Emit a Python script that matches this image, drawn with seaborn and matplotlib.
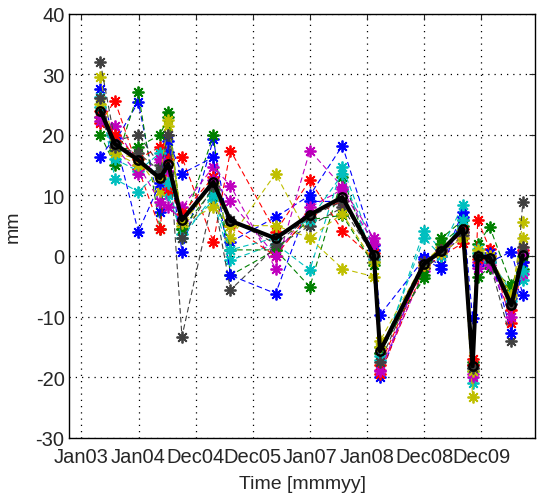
import numpy as np
import pandas as pd
import matplotlib
matplotlib.use("Agg")
import matplotlib.pyplot as plt
import seaborn as sns

# epochs in years after the Jan03 tick
epochs = [0.33, 0.585, 0.995, 1.376, 1.52, 1.76, 2.31, 2.61, 3.40, 4.0, 4.57,
          5.12, 5.23, 6.0, 6.3, 6.68, 6.85, 6.94, 7.15, 7.53, 7.73]

tick_labels = ["Jan03", "Jan04", "Dec04", "Dec05", "Jan07", "Jan08", "Dec08", "Dec09"]

# mean series (thick black)
mean_mm = [24.0, 18.5, 15.8, 12.8, 15.2, 5.9, 12.2, 5.8, 2.9, 6.8, 9.7,
           0.2, -15.7, -1.3, 0.8, 4.5, -18.2, 0.0, -0.3, -8.1, 0.1]

# individual stations (mm)
s00 = [27.5, 18.8, 25.4, 7.3, 17.2, 0.7, 19.3, 2.3, 6.4, 10.0, 18.2, 1.8, -20.0, -0.1, -1.5, 7.3, -10.3, -1.5, -1.0, 0.7, -6.4]
s01 = [20.0, 15.0, 27.0, 4.5, 23.7, 4.5, 19.9, -3.2, 1.0, -5.1, 13.0, -1.0, -15.0, -3.7, 2.9, 5.9, -17.5, 2.0, 4.8, -4.8, -2.1]
s02 = [22.0, 25.6, 14.4, 4.5, 16.0, 16.3, 2.3, 17.4, 4.0, 12.5, 4.2, -0.5, -19.5, -2.0, 0.0, 2.1, -17.0, 5.9, 1.2, -11.1, -1.0]
s03 = [26.2, 12.7, 10.6, 14.0, 10.0, 3.7, 9.2, -0.7, 2.0, -2.3, 14.7, 1.0, -17.1, 4.2, 1.0, 8.4, -21.0, 1.2, -0.5, -6.0, -4.0]
s04 = [22.3, 21.5, 15.0, 8.9, 14.0, 8.0, 14.7, 11.6, -2.1, 17.4, 11.4, 2.9, -18.8, -2.5, 0.7, 3.0, -19.9, -1.0, -2.0, -8.0, -3.0]
s05 = [29.5, 17.0, 16.0, 10.8, 21.5, 5.0, 12.0, 3.0, 13.6, 2.9, -2.1, -3.4, -14.0, -1.0, 1.5, 4.0, -23.2, 0.5, 0.0, -7.0, 5.6]
s06 = [32.0, 19.0, 20.0, 15.0, 20.0, -13.3, 10.0, -5.6, 1.5, 5.0, 8.0, 0.0, -16.0, -2.0, 0.0, 3.5, -18.5, 0.0, -1.0, -14.1, 8.9]
s07 = [16.4, 19.5, 4.0, 12.0, 19.0, 13.6, 16.3, -3.2, -6.2, 9.0, 9.0, 1.0, -9.7, -0.5, -2.1, 6.5, -18.0, -1.5, 0.5, -12.7, -1.0]
s08 = [23.0, 17.5, 18.0, 20.0, 23.0, 4.5, 11.0, 1.0, 1.0, 6.0, 6.7, -1.5, -16.0, -3.2, 2.0, 5.0, -18.0, -3.4, -2.0, -5.0, 0.0]
s09 = [24.0, 20.0, 16.0, 18.0, 11.0, 7.0, 13.0, 5.0, 0.0, 7.0, 9.0, 0.5, -18.0, -1.5, 1.0, 4.5, -18.0, -0.5, 0.0, -9.0, 1.0]
s10 = [24.5, 16.0, 14.0, 17.0, 12.0, 2.9, 10.0, 1.0, 3.0, 6.0, 13.5, -0.5, -16.5, 3.0, 0.0, 6.0, -19.0, 0.5, -1.0, -7.5, -2.5]
s11 = [23.0, 18.0, 13.5, 16.0, 8.0, 6.0, 12.5, 9.0, 0.0, 8.0, 11.0, 2.0, -19.0, -1.0, 0.5, 4.0, -19.5, -2.0, -1.5, -10.0, 0.5]
s12 = [25.0, 17.0, 15.0, 13.0, 22.5, 5.5, 8.0, 5.0, 5.0, 3.0, 7.0, -1.0, -15.0, -1.5, 0.5, 3.0, -19.0, 1.0, 0.0, -6.5, 3.0]
s13 = [26.0, 18.0, 17.0, 14.0, 20.0, 3.0, 11.5, 6.0, 2.0, 6.5, 9.0, 0.0, -17.5, -1.0, 1.0, 4.0, -18.5, 0.0, -0.5, -8.0, 1.5]
stations = [s00, s01, s02, s03, s04, s05, s06, s07, s08, s09, s10, s11, s12, s13]

# old matlab colour order
matlab_colors = ["#0000ff", "#008000", "#ff0000", "#00bfbf", "#bf00bf", "#bfbf00", "#404040"]

sns.set_style("white")
plt.rcParams["font.family"] = ["Liberation Sans", "DejaVu Sans"]
plt.rcParams["axes.unicode_minus"] = False

fig = plt.figure(figsize=(5.37, 5.02), dpi=100)
ax = fig.add_axes([0.128, 0.126, 0.869, 0.845])

for i, s in enumerate(stations):
    c = matlab_colors[i % 7]
    df = pd.DataFrame({"t": epochs, "mm": s})
    sns.lineplot(data=df, x="t", y="mm", ax=ax, color=c,
                 linestyle=(0, (5, 3)), linewidth=0.8, marker=(8, 2, 0), markersize=8.5,
                 markeredgecolor=c, markeredgewidth=1.3, estimator=None, sort=False)

mean_df = pd.DataFrame({"t": epochs, "mm": mean_mm})
sns.lineplot(data=mean_df, x="t", y="mm", ax=ax, color="black", linewidth=3.0,
             marker="o", markersize=6, markerfacecolor="none",
             markeredgecolor="black", markeredgewidth=1.8, estimator=None, sort=False)

ax.set_xlim(-0.223, 7.95)
ax.set_ylim(-30, 40)
ax.set_xticks(range(len(tick_labels)))
ax.set_xticklabels(tick_labels)
ax.set_yticks(range(-30, 41, 10))
ax.grid(True, color="black", linestyle=(0, (1, 4)), linewidth=0.9)
ax.tick_params(direction="in", length=4, labelsize=14.5, width=0.8, top=True, right=True, pad=3)
ax.tick_params(axis="x", pad=7)
for sp in ax.spines.values():
    sp.set_color("black")
    sp.set_linewidth(1.0)
ax.set_xlabel("Time [mmmyy]", fontsize=14, labelpad=6)
ax.set_ylabel("mm", fontsize=14, labelpad=10)

fig.savefig("out.png", dpi=100)
